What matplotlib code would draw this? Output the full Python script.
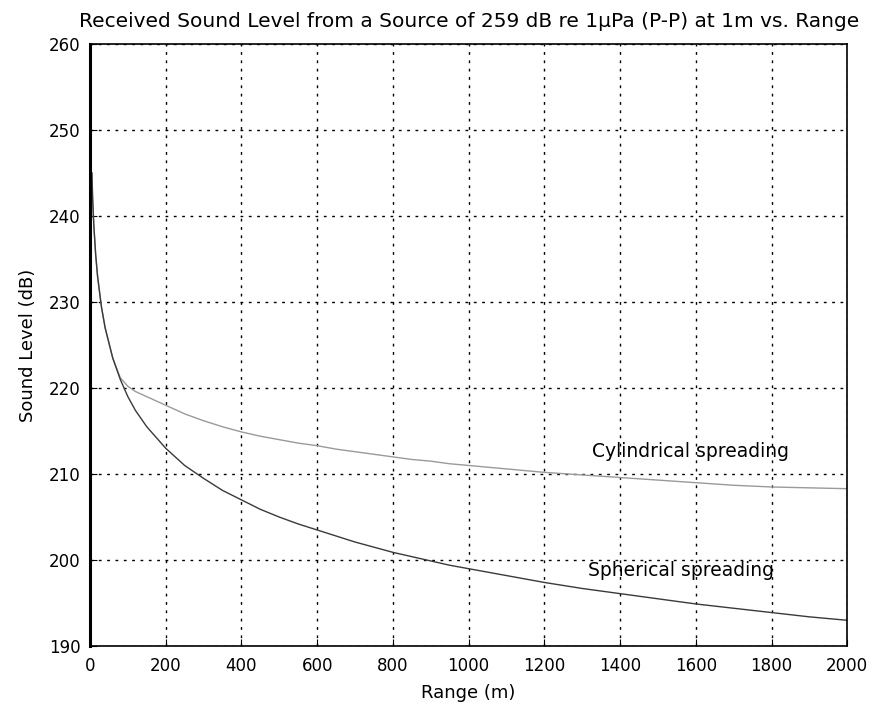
#!/usr/bin/env python3
# -*- coding: utf-8 -*-

import matplotlib
matplotlib.use("Agg")
import matplotlib.pyplot as plt

# values
range_m = [5, 7, 10, 15, 20, 30, 40, 60, 80, 100, 120, 150, 200, 250, 300,
           350, 400, 450, 500, 550, 600, 650, 700, 750, 800, 850, 900, 950,
           1000, 1100, 1200, 1300, 1400, 1500, 1600, 1700, 1800, 1900, 2000]
spherical = [245.0, 242.0, 239.0, 235.5, 233.0, 229.5, 227.0, 223.5, 221.0,
             219.0, 217.4, 215.5, 213.0, 211.0, 209.5, 208.1, 207.0, 205.9,
             205.0, 204.2, 203.5, 202.8, 202.1, 201.5, 200.9, 200.4, 199.9,
             199.4, 199.0, 198.2, 197.4, 196.7, 196.1, 195.5, 194.9, 194.4,
             193.9, 193.4, 193.0]
cylindrical = [245.0, 242.0, 239.0, 235.5, 233.0, 229.5, 227.0, 223.5, 221.2,
               220.2, 219.6, 219.0, 218.0, 217.0, 216.2, 215.5, 214.9, 214.4,
               214.0, 213.6, 213.3, 212.9, 212.6, 212.3, 212.0, 211.7, 211.5,
               211.2, 211.0, 210.6, 210.2, 209.9, 209.6, 209.3, 209.0, 208.7,
               208.5, 208.4, 208.3]

label_cyl = ("Cylindrical spreading", 1325, 212.6)
label_sph = ("Spherical spreading", 1315, 198.8)

title = "Received Sound Level from a Source of 259 dB re 1\u00b5Pa (P-P) at 1m vs. Range"


def main():
    plt.rcParams["font.family"] = ["DejaVu Sans"]
    fig = plt.figure(figsize=(8.78, 7.10), dpi=100)
    ax = fig.add_axes([0.1025, 0.090, 0.8625, 0.848])

    ax.plot(range_m, cylindrical, color="#9a9a9a", lw=1.0)
    ax.plot(range_m, spherical, color="#3a3a3a", lw=1.0)

    for txt, x, y in (label_cyl, label_sph):
        ax.text(x, y, txt, fontsize=13.5, va="center", ha="left")

    ax.set_xlim(0, 2000)
    ax.set_ylim(190, 260)
    ax.set_xticks(range(0, 2001, 200))
    ax.set_yticks(range(190, 261, 10))
    ax.tick_params(direction="in", labelsize=12, length=5, color="black")
    ax.tick_params(axis="x", pad=8)
    ax.tick_params(axis="y", pad=7)
    ax.grid(True, color="black", linestyle=(0, (2, 4)), linewidth=1.0)

    for s in ax.spines.values():
        s.set_linewidth(1.2)
    ax.spines["left"].set_linewidth(2.2)

    ax.set_xlabel("Range (m)", fontsize=13, labelpad=6)
    ax.set_ylabel("Sound Level (dB)", fontsize=13, labelpad=8)
    ax.set_title(title, fontsize=14.5, pad=12)

    fig.savefig("out.png", dpi=100)
    plt.close(fig)


if __name__ == "__main__":
    main()
